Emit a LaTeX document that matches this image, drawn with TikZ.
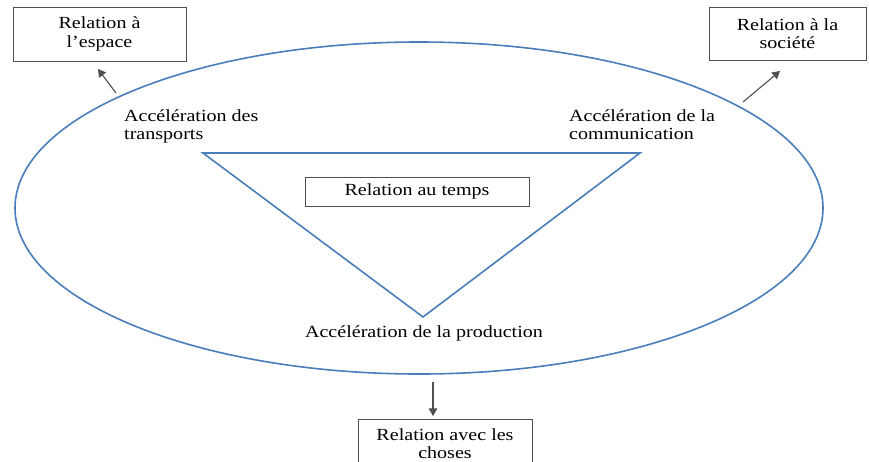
\documentclass[tikz,border=0pt]{standalone}
\usepackage{fontspec}
\setmainfont[FakeStretch=1.18]{Liberation Serif}
\usepackage{tikz}
\usetikzlibrary{arrows}

\definecolor{shapeblue}{RGB}{74,126,187}
\definecolor{boxgray}{RGB}{80,80,80}

\tikzset{
  relbox/.style={draw=boxgray, line width=0.9pt, align=center, inner sep=0pt},
  accel/.style={align=left, inner sep=0pt},
  relarrow/.style={-triangle 60, line width=1.1pt, boxgray}
}

\begin{document}
\begin{tikzpicture}[x=1pt, y=-1pt, every node/.style={font=\fontsize{17}{18.5}\selectfont}]
          \useasboundingbox (0,0) rectangle (869,461);
          % ellipse and triangle
          \draw [shapeblue, line width=1.6pt] (419,208) ellipse [x radius=404pt, y radius=166pt];
          \draw [shapeblue, line width=1.6pt, line join=miter] (203,153) -- (640,153) -- (423,317) -- cycle;
          % relation boxes
          \node [relbox, minimum width=173pt, minimum height=54pt] (espace) at (99.5,34) {Relation à\\l’espace};
          \node [relbox, minimum width=157pt, minimum height=53pt] (societe) at (787.5,33.5) {Relation à la\\société};
          \node [relbox, minimum width=224pt, minimum height=29pt] (temps) at (417,191.5) {Relation au temps};
          \node [relbox, minimum width=174pt, minimum height=48pt, anchor=north] (choses) at (445,419) {Relation avec les\\choses};
          % acceleration labels
          \node [accel, anchor=north west] (transports) at (124,109) {Accélération des\\transports};
          \node [accel, anchor=north west] (communication) at (569,109) {Accélération de la\\communication};
          \node [accel] (production) at (424,333) {Accélération de la production};
          % arrow ends
          \coordinate (espacefrom) at (116,93);
          \coordinate (espaceto) at (98,69);
          \coordinate (societefrom) at (743,102);
          \coordinate (societeto) at (780,71);
          \coordinate (chosesfrom) at (433,382);
          % arrows towards the boxes
          \draw [relarrow] (espacefrom) -- (espaceto);
          \draw [relarrow] (societefrom) -- (societeto);
          \draw [relarrow] (chosesfrom) -- ([yshift=3pt]chosesfrom |- choses.north);
        \end{tikzpicture}
\end{document}
